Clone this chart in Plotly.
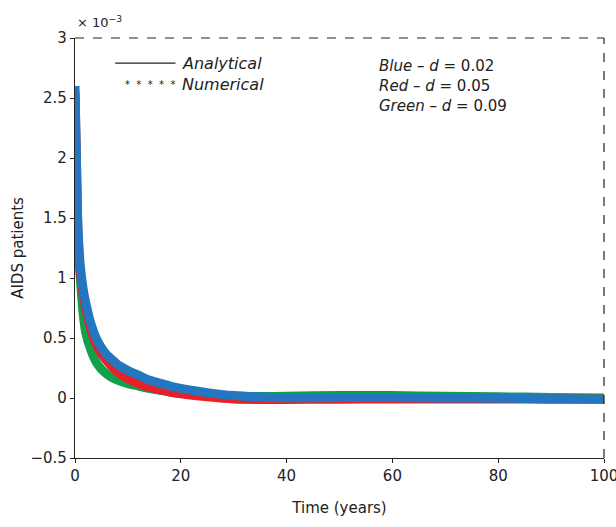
import plotly.graph_objects as go

# Time points (years) and AIDS patient levels (x 10^-3) for three values of d
t = [0, 0.5, 1, 1.5, 2, 3, 4, 5, 6, 7, 8, 10, 12, 14, 16, 18, 20, 25, 30,
     35, 40, 50, 60, 70, 80, 90, 100]

blue_d002 = [2.6, 1.5, 1.1, 0.92, 0.8, 0.62, 0.5, 0.42, 0.36, 0.32, 0.28, 0.23,
             0.19, 0.15, 0.125, 0.1, 0.08, 0.045, 0.02, 0.008, 0.002, 0.004,
             0.004, 0.0, -0.002, -0.006, -0.01]
red_d005 = [2.55, 1.45, 1.05, 0.88, 0.75, 0.57, 0.45, 0.37, 0.31, 0.26, 0.22,
            0.16, 0.12, 0.09, 0.07, 0.05, 0.035, 0.01, -0.008, -0.012, -0.012,
            -0.01, -0.008, -0.008, -0.008, -0.01, -0.01]
green_d009 = [2.5, 1.35, 1.0, 0.72, 0.55, 0.4, 0.3, 0.24, 0.2, 0.17, 0.15,
              0.12, 0.1, 0.08, 0.065, 0.05, 0.04, 0.02, 0.01, 0.012, 0.015,
              0.02, 0.02, 0.015, 0.01, 0.005, 0.0]

x_ticks = [0, 20, 40, 60, 80, 100]
y_ticks = [-0.5, 0, 0.5, 1, 1.5, 2, 2.5, 3]
y_tick_text = ["\u22120.5", "0", "0.5", "1", "1.5", "2", "2.5", "3"]

FONT = "DejaVu Sans"
INK = "#222"

fig = go.Figure()
for vals, col in [(green_d009, "#12a14a"), (red_d005, "#e8202a"), (blue_d002, "#2477bf")]:
    fig.add_trace(go.Scatter(
        x=t, y=vals, mode="lines",
        line=dict(color=col, width=9, shape="spline", smoothing=0.5),
        showlegend=False, hoverinfo="skip",
    ))

fig.update_layout(
    width=616, height=527,
    margin=dict(l=75, r=12, t=38, b=69, autoexpand=False),
    paper_bgcolor="white", plot_bgcolor="white",
    font=dict(family=FONT, size=15, color=INK),
    xaxis=dict(
        range=[0, 100], tickvals=x_ticks, ticks="outside", ticklen=4,
        tickcolor=INK, showline=True, linecolor=INK, linewidth=1.2,
        showgrid=False, zeroline=False, ticklabeloverflow="allow",
        automargin=False,
        title=dict(text="Time (years)", standoff=18, font=dict(size=15)),
        tickfont=dict(size=15),
    ),
    yaxis=dict(
        range=[-0.5, 3], tickvals=y_ticks, ticktext=y_tick_text,
        ticks="outside", ticklen=4, tickcolor=INK, showline=True,
        linecolor=INK, linewidth=1.2, showgrid=False, zeroline=False,
        automargin=False,
        title=dict(text="AIDS patients", standoff=3, font=dict(size=15)),
        tickfont=dict(size=15),
    ),
)

# dashed top and right frame
fig.add_shape(type="line", xref="paper", yref="paper", x0=0, x1=1, y0=1, y1=1,
              line=dict(color=INK, width=1.2, dash="dash"))
fig.add_shape(type="line", xref="paper", yref="paper", x0=1, x1=1, y0=0, y1=1,
              line=dict(color=INK, width=1.2, dash="dash"))

# scale factor label
fig.add_annotation(xref="paper", yref="paper", x=0, y=1, xanchor="left",
                   yanchor="bottom", yshift=6, showarrow=False,
                   text="\u00d7 10<sup>\u22123</sup>", font=dict(size=13))

# key: analytical (line) vs numerical (stars)
fig.add_shape(type="line", xref="x", yref="y", x0=7.6, x1=19, y0=2.79, y1=2.79,
              line=dict(color=INK, width=1.2))
fig.add_annotation(xref="x", yref="y", x=19.8, y=2.79, xanchor="left",
                   showarrow=False, text="<i>Analytical</i>", font=dict(size=16))
fig.add_annotation(xref="x", yref="y", x=19.3, y=2.61, xanchor="right",
                   showarrow=False,
                   text="*\u00a0\u00a0*\u00a0\u00a0*\u00a0\u00a0*\u00a0\u00a0*",
                   font=dict(size=10))
fig.add_annotation(xref="x", yref="y", x=19.8, y=2.61, xanchor="left",
                   showarrow=False, text="<i>Numerical</i>", font=dict(size=16))

# parameter key
for i, (name, d) in enumerate([("Blue", "0.02"), ("Red", "0.05"), ("Green", "0.09")]):
    fig.add_annotation(xref="x", yref="y", x=57, y=2.77 - i * 0.167,
                       xanchor="left", showarrow=False,
                       text=f"<i>{name} \u2013 d</i> = {d}", font=dict(size=15))

fig.write_html("out.html")
